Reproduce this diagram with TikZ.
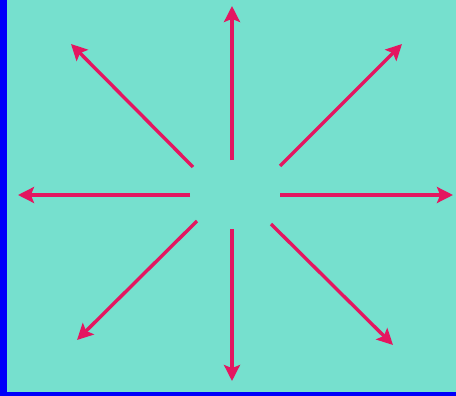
\documentclass[tikz,border=0pt]{standalone}
\usetikzlibrary{arrows.meta}
\definecolor{sea}{RGB}{118,224,206}
\definecolor{rim}{RGB}{0,0,250}
\definecolor{ray}{RGB}{228,22,96}
\tikzset{spoke/.style={ray,line width=1.7pt,-{Stealth[length=8pt,width=8pt,inset=1.6pt]}}}
\begin{document}
\begin{tikzpicture}[x=0.5pt,y=-0.5pt]
\fill[rim] (0,0) rectangle (456,396);
\fill[sea] (7,0) rectangle (456,392);
\useasboundingbox (0,0) rectangle (456,396);

% inner ends of the spokes
\coordinate (n0) at (232,160);
\coordinate (s0) at (232,229);
\coordinate (w0) at (190,195);
\coordinate (e0) at (280,195);
\coordinate (nw0) at (193,167);
\coordinate (ne0) at (280,166);
\coordinate (sw0) at (197,221);
\coordinate (se0) at (271,224);
% tips
\coordinate (n1) at (232,6);
\coordinate (s1) at (232,381);
\coordinate (w1) at (18,195);
\coordinate (e1) at (453,195);
\coordinate (nw1) at (71,44);
\coordinate (ne1) at (402,44);
\coordinate (sw1) at (77,340);
\coordinate (se1) at (393,345);

\foreach \d in {n,s,w,e,nw,ne,sw,se}
  \draw[spoke] (\d0) -- (\d1);
\end{tikzpicture}
\end{document}
